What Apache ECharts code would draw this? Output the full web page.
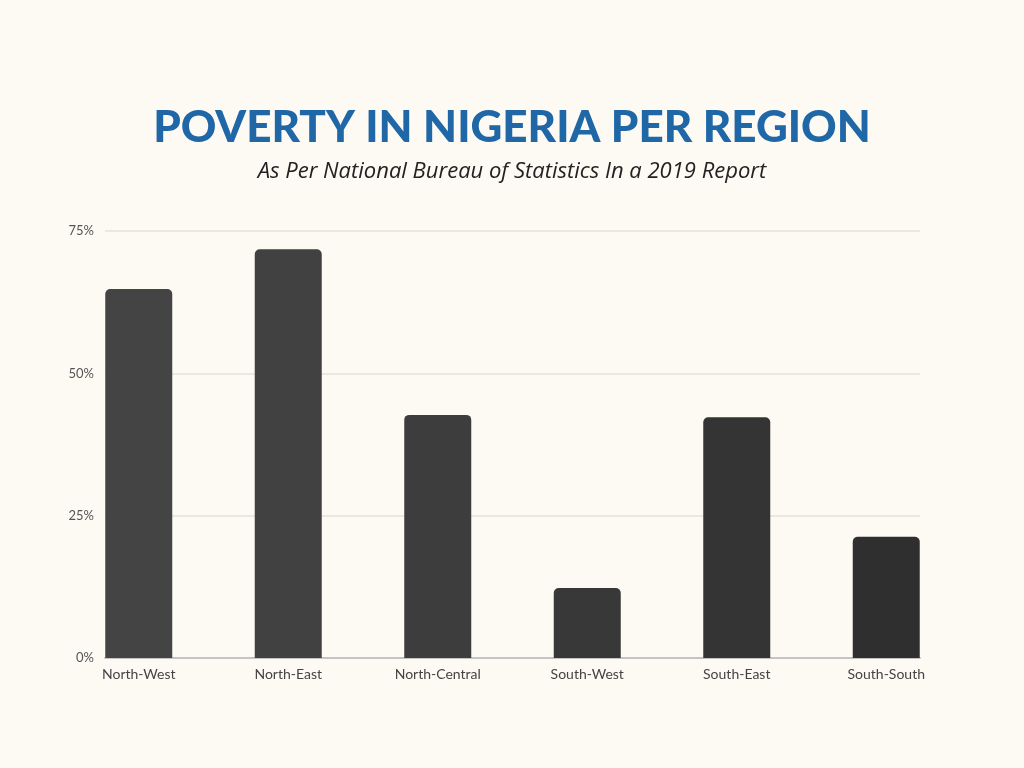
<!DOCTYPE html>
<html><head><meta charset="utf-8">
<script src="https://cdn.jsdelivr.net/npm/echarts@6/dist/echarts.min.js"></script>
<style>html,body{margin:0;padding:0;background:#fdfaf4;}#c{width:1024px;height:768px;}</style>
</head><body><div id="c"></div>
<script>
var categories = ['North-West','North-East','North-Central','South-West','South-East','South-South'];
var povertyRates = [64.8, 71.8, 42.7, 12.3, 42.3, 21.3];
var barColors = ['#444444','#414141','#3d3d3d','#383838','#343434','#2f2f2f'];
var yTicks = [0, 25, 50, 75];
var titleText = 'POVERTY IN NIGERIA PER REGION';
var subtitleText = 'As Per National Bureau of Statistics In a 2019 Report';

var chart = echarts.init(document.getElementById('c'));
chart.setOption({
  backgroundColor: '#fdfaf4',
  title: [{
    text: titleText, left: 'center', top: 101,
    textStyle: {fontFamily: 'Lato', fontWeight: 900, fontSize: 44, color: '#1f67a6'}
  },{
    text: subtitleText, left: 'center', top: 156,
    textStyle: {fontFamily: 'Open Sans', fontStyle: 'italic', fontWeight: 'normal', fontSize: 22, color: '#222'}
  }],
  grid: [
    {left: 105, right: 104, top: 231, bottom: 110},
    {left: 64, right: 63, top: 231, bottom: 110}
  ],
  xAxis: [
    {gridIndex: 0, type: 'category', data: categories, show: true,
     axisLine: {show: true, lineStyle: {color: '#c4c4c4', width: 2}},
     axisTick: {show: false}, axisLabel: {show: false}},
    {gridIndex: 1, type: 'category', data: categories,
     axisLine: {show: false}, axisTick: {show: false},
     axisLabel: {fontFamily: 'Lato', fontSize: 14, color: '#444', margin: 9}}
  ],
  yAxis: [
    {gridIndex: 0, type: 'value', min: 0, max: 75, interval: 25,
     axisLine: {show: false}, axisTick: {show: false},
     axisLabel: {formatter: '{value}%', fontFamily: 'Lato', fontSize: 13, color: '#555', margin: 11},
     splitLine: {lineStyle: {color: '#e4e2dc', width: 1.5}}},
    {gridIndex: 1, type: 'value', min: 0, max: 75, interval: 25, show: false, splitLine: {show: false}}
  ],
  series: [{
    type: 'bar', xAxisIndex: 1, yAxisIndex: 1,
    data: povertyRates.map(function(v, i){ return {value: v, itemStyle: {color: barColors[i]}}; }),
    barWidth: 67,
    itemStyle: {borderRadius: [5,5,0,0]},
    z: 3
  }]
});
</script></body></html>
